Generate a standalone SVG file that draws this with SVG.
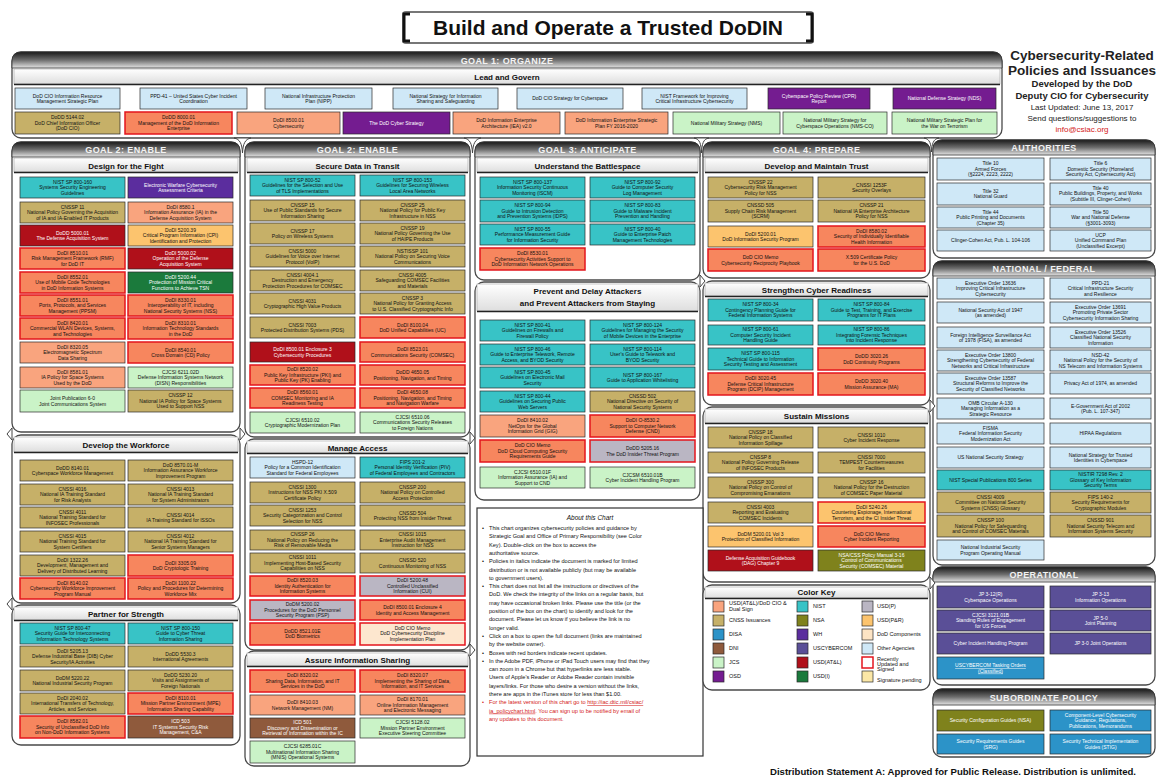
<svg xmlns="http://www.w3.org/2000/svg" width="1157" height="778" viewBox="0 0 1157 778">
<defs>
<linearGradient id="hg" x1="0" y1="0" x2="0" y2="1"><stop offset="0" stop-color="#1a1a1a"/><stop offset=".5" stop-color="#6e6e6e"/><stop offset="1" stop-color="#e4e4e4"/></linearGradient>
<linearGradient id="sg" x1="0" y1="0" x2="0" y2="1"><stop offset="0" stop-color="#ffffff"/><stop offset="1" stop-color="#dedede"/></linearGradient>
</defs>
<style>
text{font-family:"Liberation Sans",Arial,sans-serif}
.sec{fill:#fff;stroke:#4a4a4a;stroke-width:1.3}
.band{fill:url(#hg);stroke:#333;stroke-width:.8}
.sub{fill:url(#sg);stroke:#a0a0a0;stroke-width:.6}
.ul{stroke:#222;stroke-width:1.4}
.gh{font-size:9px;font-weight:bold;fill:#f2f2f2;text-anchor:middle;letter-spacing:.4px}
.sh{font-size:8px;font-weight:bold;fill:#111;text-anchor:middle}
.b{stroke:#2a2a2a;stroke-width:.7}
.s{fill:#f9a47e}
.sr{fill:#f7865e;stroke:#e3151c;stroke-width:1.5}
.t{fill:#c6b068}
.tl{fill:#38c3c6}
.lb{fill:#cfe8f7}
.lg{fill:#caf3c7}
.pu{fill:#741c90}
.p2{fill:#5b2d9e}
.dr{fill:#b0101a}
.dg{fill:#1b7a3c}
.br{fill:#8f5a3c}
.ol{fill:#7f821c}
.sl{fill:#5a4f97}
.bl{fill:#2c93c8}
.lo{fill:#fcc46e}
.lor{fill:#fcc46e;stroke:#e3151c;stroke-width:1.5}
.grr{fill:#bab6c3;stroke:#e3151c;stroke-width:1.5}
.per{fill:#fde7cf;stroke:#e3151c;stroke-width:1.5}
.k{font-size:5px;fill:#111;text-anchor:middle}
.w{font-size:5px;fill:#fff;text-anchor:middle}
.lt{font-size:5.5px;fill:#111}
.ab{font-size:5.6px;fill:#111}
.abr{font-size:5.6px;fill:#d42020}
.jn{fill:#fff;stroke:#444;stroke-width:1}
</style>
<rect width="1157" height="778" fill="#fff"/>

<g id="title">
<rect x="403" y="12" width="410" height="31" rx="3" fill="#fff" stroke="#777" stroke-width="2"/>
<path d="M410,14 H404 V41 H410 M806,14 H812 V41 H806" stroke="#111" stroke-width="3" fill="none"/>
<text x="608" y="35" font-size="21" font-weight="bold" text-anchor="middle" fill="#111">Build and Operate a Trusted DoDIN</text>
</g>

<g id="info" text-anchor="middle" font-weight="bold" fill="#222">
<text x="1082" y="60" font-size="13.5">Cybersecurity-Related</text>
<text x="1082" y="75" font-size="13.5">Policies and Issuances</text>
<text x="1082" y="87" font-size="9.5">Developed by the DoD</text>
<text x="1082" y="99" font-size="9.5">Deputy CIO for Cybersecurity</text>
<text x="1082" y="110" font-size="8" font-weight="normal">Last Updated: June 13, 2017</text>
<text x="1082" y="121" font-size="8" font-weight="normal">Send questions/suggestions to</text>
<text x="1082" y="132" font-size="8" font-weight="normal" fill="#d42020">info@csiac.org</text>
</g>

<g id="sections">
<g id="goal1">
<rect class="sec" x="12" y="52" width="990" height="86" rx="9"/>
<path class="band" d="M12,68 V61 Q12,52 21,52 H993 Q1002,52 1002,61 V68 Z"/>
<text class="gh" x="507" y="63.5">GOAL 1: ORGANIZE</text>
<rect class="sub" x="14" y="69" width="986" height="15"/>
<line class="ul" x1="14" y1="84.5" x2="1000" y2="84.5"/>
<text class="sh" x="507" y="80">Lead and Govern</text>
</g>
<g id="sec-design">
<rect class="sec" x="12" y="142" width="228" height="290" rx="9"/>
<path class="band" d="M12,157 V151 Q12,142 21,142 H231 Q240,142 240,151 V157 Z"/>
<text class="gh" x="126" y="153">GOAL 2: ENABLE</text>
<rect class="sub" x="14" y="158" width="224" height="14"/>
<line class="ul" x1="14" y1="172.5" x2="238" y2="172.5"/>
<text class="sh" x="126" y="168.5">Design for the Fight</text>
</g>
<g id="sec-workforce">
<rect class="sec" x="12" y="435" width="228" height="168" rx="9"/>
<rect class="sub" x="14" y="437" width="224" height="15"/>
<line class="ul" x1="14" y1="452.5" x2="238" y2="452.5"/>
<text class="sh" x="126" y="448">Develop the Workforce</text>
</g>
<g id="sec-partner">
<rect class="sec" x="12" y="605" width="228" height="140" rx="9"/>
<rect class="sub" x="14" y="607" width="224" height="13"/>
<line class="ul" x1="14" y1="620.5" x2="238" y2="620.5"/>
<text class="sh" x="126" y="616.5">Partner for Strength</text>
</g>
<g id="sec-transit">
<rect class="sec" x="245" y="142" width="225" height="295" rx="9"/>
<path class="band" d="M245,157 V151 Q245,142 254,142 H461 Q470,142 470,151 V157 Z"/>
<text class="gh" x="357.5" y="153">GOAL 2: ENABLE</text>
<rect class="sub" x="247" y="158" width="221" height="14"/>
<line class="ul" x1="247" y1="172.5" x2="468" y2="172.5"/>
<text class="sh" x="357.5" y="168.5">Secure Data in Transit</text>
</g>
<g id="sec-access">
<rect class="sec" x="245" y="439" width="225" height="211" rx="9"/>
<rect class="sub" x="247" y="441" width="221" height="12"/>
<line class="ul" x1="247" y1="453.5" x2="468" y2="453.5"/>
<text class="sh" x="357.5" y="450.5">Manage Access</text>
</g>
<g id="sec-sharing">
<rect class="sec" x="245" y="651" width="225" height="115" rx="9"/>
<rect class="sub" x="247" y="653" width="221" height="13"/>
<line class="ul" x1="247" y1="666.5" x2="468" y2="666.5"/>
<text class="sh" x="357.5" y="662.5">Assure Information Sharing</text>
</g>
<g id="sec-battlespace">
<rect class="sec" x="475" y="142" width="225" height="138" rx="9"/>
<path class="band" d="M475,157 V151 Q475,142 484,142 H691 Q700,142 700,151 V157 Z"/>
<text class="gh" x="587.5" y="153">GOAL 3: ANTICIPATE</text>
<rect class="sub" x="477" y="158" width="221" height="14"/>
<line class="ul" x1="477" y1="172.5" x2="698" y2="172.5"/>
<text class="sh" x="587.5" y="168.5">Understand the Battlespace</text>
</g>
<g id="sec-prevent">
<rect class="sec" x="475" y="282" width="225" height="218" rx="9"/>
<rect class="sub" x="477" y="284" width="221" height="27"/>
<line class="ul" x1="477" y1="311.5" x2="698" y2="311.5"/>
<text class="sh" x="587.5" y="294">Prevent and Delay Attackers</text>
<text class="sh" x="587.5" y="305.5">and Prevent Attackers from Staying</text>
</g>
<g id="sec-trust">
<rect class="sec" x="703" y="142" width="227" height="136" rx="9"/>
<path class="band" d="M703,157 V151 Q703,142 712,142 H921 Q930,142 930,151 V157 Z"/>
<text class="gh" x="816.5" y="153">GOAL 4: PREPARE</text>
<rect class="sub" x="705" y="158" width="223" height="14"/>
<line class="ul" x1="705" y1="172.5" x2="928" y2="172.5"/>
<text class="sh" x="816.5" y="168.5">Develop and Maintain Trust</text>
</g>
<g id="sec-readiness">
<rect class="sec" x="703" y="281" width="227" height="124" rx="9"/>
<rect class="sub" x="705" y="283" width="223" height="13"/>
<line class="ul" x1="705" y1="296.5" x2="928" y2="296.5"/>
<text class="sh" x="816.5" y="292.5">Strengthen Cyber Readiness</text>
</g>
<g id="sec-sustain">
<rect class="sec" x="703" y="407" width="227" height="175" rx="9"/>
<rect class="sub" x="705" y="409" width="223" height="14"/>
<line class="ul" x1="705" y1="423.5" x2="928" y2="423.5"/>
<text class="sh" x="816.5" y="419">Sustain Missions</text>
</g>
<g id="sec-authorities">
<rect class="sec" x="933" y="140" width="222" height="118" rx="9"/>
<path class="band" d="M933,155 V149 Q933,140 942,140 H1146 Q1155,140 1155,149 V155 Z"/>
<text class="gh" x="1044" y="151">AUTHORITIES</text>
</g>
<g id="sec-national">
<rect class="sec" x="933" y="261" width="222" height="304" rx="9"/>
<path class="band" d="M933,276 V270 Q933,261 942,261 H1146 Q1155,261 1155,270 V276 Z"/>
<text class="gh" x="1044" y="272">NATIONAL / FEDERAL</text>
</g>
<g id="sec-operational">
<rect class="sec" x="933" y="567" width="222" height="118" rx="9"/>
<path class="band" d="M933,582 V576 Q933,567 942,567 H1146 Q1155,567 1155,576 V582 Z"/>
<text class="gh" x="1044" y="578">OPERATIONAL</text>
</g>
<g id="sec-subordinate">
<rect class="sec" x="933" y="689" width="222" height="68" rx="9"/>
<path class="band" d="M933,705 V698 Q933,689 942,689 H1146 Q1155,689 1155,698 V705 Z"/>
<text class="gh" x="1044" y="700.5">SUBORDINATE POLICY</text>
</g>
</g>

<g id="connectors">
<path class="jn" d="M234,138 C240,139 242,144 242.5,153 C243,144 245,139 251,138 Z"/>
<path class="jn" d="M464,138 C470,139 472,144 472.5,153 C473,144 475,139 481,138 Z"/>
<path class="jn" d="M694,138 C700,139 701,144 701.5,153 C702,144 703,139 709,138 Z"/>
<path class="jn" d="M924,138 C930,139 931,144 931.5,152 C932,144 933,139 939,138 Z"/>
<path class="jn" d="M12,428 L7,434 L12,440 Z"/>
<path class="jn" d="M240,428 L245,434 L240,440 Z"/>
<path class="jn" d="M12,598 L7,604 L12,610 Z"/>
<path class="jn" d="M470,644 L475,650 L470,656 Z"/>
<path class="jn" d="M470,432 L475,438 L470,444 Z"/>
<path class="jn" d="M700,275 L705,281 L700,287 Z"/>
<path class="jn" d="M930,400 L935,406 L930,412 Z"/>
<path class="jn" d="M930,577 L935,583 L930,589 Z"/>
<path class="jn" d="M703,577 L698,583 L703,589 Z"/>
</g>

<g id="n-g1a"><rect class="b lb" x="15" y="88" width="105" height="21"/><text class="k" x="67.5" y="97.5">DoD CIO Information Resource<tspan x="67.5" dy="5.6">Management Strategic Plan</tspan></text></g>
<g id="n-g1b"><rect class="b lb" x="140" y="88" width="107" height="21"/><text class="k" x="193.5" y="97.5">PPD-41 – United States Cyber Incident<tspan x="193.5" dy="5.6">Coordination</tspan></text></g>
<g id="n-g1c"><rect class="b lb" x="265" y="88" width="107" height="21"/><text class="k" x="318.5" y="97.5">National Infrastructure Protection<tspan x="318.5" dy="5.6">Plan (NIPP)</tspan></text></g>
<g id="n-g1d"><rect class="b lb" x="393" y="88" width="105" height="21"/><text class="k" x="445.5" y="97.5">National Strategy for Information<tspan x="445.5" dy="5.6">Sharing and Safeguarding</tspan></text></g>
<g id="n-g1e"><rect class="b lb" x="517" y="88" width="106" height="21"/><text class="k" x="570" y="100.3">DoD CIO Strategy for Cyberspace</text></g>
<g id="n-g1f"><rect class="b lb" x="642" y="88" width="105" height="21"/><text class="k" x="694.5" y="97.5">NIST Framework for Improving<tspan x="694.5" dy="5.6">Critical Infrastructure Cybersecurity</tspan></text></g>
<g id="n-g1g"><rect class="b pu" x="768" y="88" width="102" height="21"/><text class="w" x="819" y="97.5">Cyberspace Policy Review (CPR)<tspan x="819" dy="5.6">Report</tspan></text></g>
<g id="n-g1h"><rect class="b pu" x="893" y="88" width="103" height="21"/><text class="w" x="944.5" y="100.3">National Defense Strategy (NDS)</text></g>
<g id="n-g1i"><rect class="b t" x="15" y="112" width="105" height="22"/><text class="k" x="67.5" y="119.2">DoDD 5144.02<tspan x="67.5" dy="5.6">DoD Chief Information Officer</tspan><tspan x="67.5" dy="5.6">(DoD CIO)</tspan></text></g>
<g id="n-g1j"><rect class="b sr" x="125" y="112" width="107" height="22"/><text class="k" x="178.5" y="119.2">DoDD 8000.01<tspan x="178.5" dy="5.6">Management of the DoD Information</tspan><tspan x="178.5" dy="5.6">Enterprise</tspan></text></g>
<g id="n-g1k"><rect class="b s" x="237" y="112" width="103" height="22"/><text class="k" x="288.5" y="122">DoDI 8500.01<tspan x="288.5" dy="5.6">Cybersecurity</tspan></text></g>
<g id="n-g1l"><rect class="b pu" x="343" y="112" width="107" height="22"/><text class="w" x="396.5" y="124.8">The DoD Cyber Strategy</text></g>
<g id="n-g1m"><rect class="b s" x="453" y="112" width="107" height="22"/><text class="k" x="506.5" y="122">DoD Information Enterprise<tspan x="506.5" dy="5.6">Architecture (IEA) v2.0</tspan></text></g>
<g id="n-g1n"><rect class="b s" x="565" y="112" width="103" height="22"/><text class="k" x="616.5" y="122">DoD Information Enterprise Strategic<tspan x="616.5" dy="5.6">Plan FY 2016-2020</tspan></text></g>
<g id="n-g1o"><rect class="b lg" x="673" y="112" width="107" height="22"/><text class="k" x="726.5" y="124.8">National Military Strategy (NMS)</text></g>
<g id="n-g1p"><rect class="b lg" x="783" y="112" width="104" height="22"/><text class="k" x="835" y="122">National Military Strategy for<tspan x="835" dy="5.6">Cyberspace Operations (NMS-CO)</tspan></text></g>
<g id="n-g1q"><rect class="b lg" x="892" y="112" width="105" height="22"/><text class="k" x="944.5" y="122">National Military Strategic Plan for<tspan x="944.5" dy="5.6">the War on Terrorism</tspan></text></g>

<g id="n-d1l"><rect class="b tl" x="20" y="177" width="105" height="21"/><text class="k" x="72.5" y="183.7">NIST SP 800-160<tspan x="72.5" dy="5.6">Systems Security Engineering</tspan><tspan x="72.5" dy="5.6">Guidelines</tspan></text></g>
<g id="n-d1r"><rect class="b p2" x="128" y="177" width="105" height="21"/><text class="w" x="180.5" y="186.5">Electronic Warfare Cybersecurity<tspan x="180.5" dy="5.6">Assessment Criteria</tspan></text></g>
<g id="n-d2l"><rect class="b t" x="20" y="202" width="105" height="21"/><text class="k" x="72.5" y="208.7">CNSSP 11<tspan x="72.5" dy="5.6">National Policy Governing the Acquisition</tspan><tspan x="72.5" dy="5.6">of IA and IA-Enabled IT Products</tspan></text></g>
<g id="n-d2r"><rect class="b s" x="128" y="202" width="105" height="21"/><text class="k" x="180.5" y="208.7">DoDI 8580.1<tspan x="180.5" dy="5.6">Information Assurance (IA) in the</tspan><tspan x="180.5" dy="5.6">Defense Acquisition System</tspan></text></g>
<g id="n-d3l"><rect class="b dr" x="20" y="225" width="105" height="21"/><text class="w" x="72.5" y="234.5">DoDD 5000.01<tspan x="72.5" dy="5.6">The Defense Acquisition System</tspan></text></g>
<g id="n-d3r"><rect class="b lo" x="128" y="225" width="105" height="21"/><text class="k" x="180.5" y="231.7">DoDI 5200.39<tspan x="180.5" dy="5.6">Critical Program Information (CPI)</tspan><tspan x="180.5" dy="5.6">Identification and Protection</tspan></text></g>
<g id="n-d4l"><rect class="b sr" x="20" y="248" width="105" height="21"/><text class="k" x="72.5" y="254.7">DoDI 8510.01<tspan x="72.5" dy="5.6">Risk Management Framework (RMF)</tspan><tspan x="72.5" dy="5.6">for DoD IT</tspan></text></g>
<g id="n-d4r"><rect class="b dr" x="128" y="248" width="105" height="21"/><text class="w" x="180.5" y="254.7">DoDI 5000.02<tspan x="180.5" dy="5.6">Operation of the Defense</tspan><tspan x="180.5" dy="5.6">Acquisition System</tspan></text></g>
<g id="n-d5l"><rect class="b sr" x="20" y="272" width="105" height="21"/><text class="k" x="72.5" y="278.7">DoDI 8552.01<tspan x="72.5" dy="5.6">Use of Mobile Code Technologies</tspan><tspan x="72.5" dy="5.6">in DoD Information Systems</tspan></text></g>
<g id="n-d5r"><rect class="b dg" x="128" y="272" width="105" height="21"/><text class="w" x="180.5" y="278.7">DoDI 5200.44<tspan x="180.5" dy="5.6">Protection of Mission Critical</tspan><tspan x="180.5" dy="5.6">Functions to Achieve TSN</tspan></text></g>
<g id="n-d6l"><rect class="b sr" x="20" y="295" width="105" height="21"/><text class="k" x="72.5" y="301.7">DoDI 8551.01<tspan x="72.5" dy="5.6">Ports, Protocols, and Services</tspan><tspan x="72.5" dy="5.6">Management (PPSM)</tspan></text></g>
<g id="n-d6r"><rect class="b sr" x="128" y="295" width="105" height="21"/><text class="k" x="180.5" y="301.7">DoDI 8330.01<tspan x="180.5" dy="5.6">Interoperability of IT, including</tspan><tspan x="180.5" dy="5.6">National Security Systems (NSS)</tspan></text></g>
<g id="n-d7l"><rect class="b sr" x="20" y="318" width="105" height="21"/><text class="k" x="72.5" y="324.7">DoDI 8420.01<tspan x="72.5" dy="5.6">Commercial WLAN Devices, Systems,</tspan><tspan x="72.5" dy="5.6">and Technologies</tspan></text></g>
<g id="n-d7r"><rect class="b sr" x="128" y="318" width="105" height="21"/><text class="k" x="180.5" y="324.7">DoDI 8310.01<tspan x="180.5" dy="5.6">Information Technology Standards</tspan><tspan x="180.5" dy="5.6">in the DoD</tspan></text></g>
<g id="n-d8l"><rect class="b s" x="20" y="342" width="105" height="21"/><text class="k" x="72.5" y="348.7">DoDI 8320.05<tspan x="72.5" dy="5.6">Electromagnetic Spectrum</tspan><tspan x="72.5" dy="5.6">Data Sharing</tspan></text></g>
<g id="n-d8r"><rect class="b sr" x="128" y="342" width="105" height="21"/><text class="k" x="180.5" y="351.5">DoDI 8540.01<tspan x="180.5" dy="5.6">Cross Domain (CD) Policy</tspan></text></g>
<g id="n-d9l"><rect class="b s" x="20" y="367" width="105" height="21"/><text class="k" x="72.5" y="373.7">DoDI 8581.01<tspan x="72.5" dy="5.6">IA Policy for Space Systems</tspan><tspan x="72.5" dy="5.6">Used by the DoD</tspan></text></g>
<g id="n-d9r"><rect class="b lg" x="128" y="367" width="105" height="21"/><text class="k" x="180.5" y="373.7">CJCSI 6211.02D<tspan x="180.5" dy="5.6">Defense Information Systems Network</tspan><tspan x="180.5" dy="5.6">(DISN) Responsibilities</tspan></text></g>
<g id="n-d10l"><rect class="b lg" x="20" y="390" width="105" height="22"/><text class="k" x="72.5" y="400">Joint Publication 6-0<tspan x="72.5" dy="5.6">Joint Communications System</tspan></text></g>
<g id="n-d10r"><rect class="b t" x="128" y="390" width="105" height="22"/><text class="k" x="180.5" y="397.2">CNSSP 12<tspan x="180.5" dy="5.6">National IA Policy for Space Systems</tspan><tspan x="180.5" dy="5.6">Used to Support NSS</tspan></text></g>

<g id="n-w1l"><rect class="b t" x="20" y="460" width="105" height="21"/><text class="k" x="72.5" y="469.5">DoDD 8140.01<tspan x="72.5" dy="5.6">Cyberspace Workforce Management</tspan></text></g>
<g id="n-w1r"><rect class="b t" x="128" y="460" width="105" height="21"/><text class="k" x="180.5" y="466.7">DoD 8570.01-M<tspan x="180.5" dy="5.6">Information Assurance Workforce</tspan><tspan x="180.5" dy="5.6">Improvement Program</tspan></text></g>
<g id="n-w2l"><rect class="b t" x="20" y="484" width="105" height="21"/><text class="k" x="72.5" y="490.7">CNSSI 4016<tspan x="72.5" dy="5.6">National IA Training Standard</tspan><tspan x="72.5" dy="5.6">for Risk Analysts</tspan></text></g>
<g id="n-w2r"><rect class="b t" x="128" y="484" width="105" height="21"/><text class="k" x="180.5" y="490.7">CNSSI 4013<tspan x="180.5" dy="5.6">National IA Training Standard</tspan><tspan x="180.5" dy="5.6">for System Administrators</tspan></text></g>
<g id="n-w3l"><rect class="b t" x="20" y="507" width="105" height="21"/><text class="k" x="72.5" y="513.7">CNSSI 4011<tspan x="72.5" dy="5.6">National Training Standard for</tspan><tspan x="72.5" dy="5.6">INFOSEC Professionals</tspan></text></g>
<g id="n-w3r"><rect class="b t" x="128" y="507" width="105" height="21"/><text class="k" x="180.5" y="516.5">CNSSI 4014<tspan x="180.5" dy="5.6">IA Training Standard for ISSOs</tspan></text></g>
<g id="n-w4l"><rect class="b t" x="20" y="531" width="105" height="21"/><text class="k" x="72.5" y="537.7">CNSSI 4015<tspan x="72.5" dy="5.6">National Training Standard for</tspan><tspan x="72.5" dy="5.6">System Certifiers</tspan></text></g>
<g id="n-w4r"><rect class="b t" x="128" y="531" width="105" height="21"/><text class="k" x="180.5" y="537.7">CNSSI 4012<tspan x="180.5" dy="5.6">National IA Training Standard for</tspan><tspan x="180.5" dy="5.6">Senior Systems Managers</tspan></text></g>
<g id="n-w5l"><rect class="b t" x="20" y="555" width="105" height="21"/><text class="k" x="72.5" y="561.7">DoDI 1322.26<tspan x="72.5" dy="5.6">Development, Management and</tspan><tspan x="72.5" dy="5.6">Delivery of Distributed Learning</tspan></text></g>
<g id="n-w5r"><rect class="b sr" x="128" y="555" width="105" height="21"/><text class="k" x="180.5" y="564.5">DoDI 3305.09<tspan x="180.5" dy="5.6">DoD Cryptologic Training</tspan></text></g>
<g id="n-w6l"><rect class="b sr" x="20" y="578" width="105" height="21"/><text class="k" x="72.5" y="584.7">DoDI 8140.02<tspan x="72.5" dy="5.6">Cybersecurity Workforce Improvement</tspan><tspan x="72.5" dy="5.6">Program Manual</tspan></text></g>
<g id="n-w6r"><rect class="b sr" x="128" y="578" width="105" height="21"/><text class="k" x="180.5" y="584.7">DoDI 1100.22<tspan x="180.5" dy="5.6">Policy and Procedures for Determining</tspan><tspan x="180.5" dy="5.6">Workforce Mix</tspan></text></g>

<g id="n-p1l"><rect class="b tl" x="20" y="623" width="105" height="21"/><text class="k" x="72.5" y="629.7">NIST SP 800-47<tspan x="72.5" dy="5.6">Security Guide for Interconnecting</tspan><tspan x="72.5" dy="5.6">Information Technology Systems</tspan></text></g>
<g id="n-p1r"><rect class="b tl" x="128" y="623" width="105" height="21"/><text class="k" x="180.5" y="629.7">NIST SP 800-150<tspan x="180.5" dy="5.6">Guide to Cyber Threat</tspan><tspan x="180.5" dy="5.6">Information Sharing</tspan></text></g>
<g id="n-p2l"><rect class="b t" x="20" y="646" width="105" height="21"/><text class="k" x="72.5" y="652.7">DoDI 5205.13<tspan x="72.5" dy="5.6">Defense Industrial Base (DIB) Cyber</tspan><tspan x="72.5" dy="5.6">Security/IA Activities</tspan></text></g>
<g id="n-p2r"><rect class="b t" x="128" y="646" width="105" height="21"/><text class="k" x="180.5" y="655.5">DoDD 5530.3<tspan x="180.5" dy="5.6">International Agreements</tspan></text></g>
<g id="n-p3l"><rect class="b t" x="20" y="670" width="105" height="21"/><text class="k" x="72.5" y="679.5">DoDM 5220.22<tspan x="72.5" dy="5.6">National Industrial Security Program</tspan></text></g>
<g id="n-p3r"><rect class="b t" x="128" y="670" width="105" height="21"/><text class="k" x="180.5" y="676.7">DoDD 5230.20<tspan x="180.5" dy="5.6">Visits and Assignments of</tspan><tspan x="180.5" dy="5.6">Foreign Nationals</tspan></text></g>
<g id="n-p4l"><rect class="b t" x="20" y="693" width="105" height="21"/><text class="k" x="72.5" y="699.7">DoDI 2040.02<tspan x="72.5" dy="5.6">International Transfers of Technology,</tspan><tspan x="72.5" dy="5.6">Articles, and Services</tspan></text></g>
<g id="n-p4r"><rect class="b sr" x="128" y="693" width="105" height="21"/><text class="k" x="180.5" y="699.7">DoDI 8110.01<tspan x="180.5" dy="5.6">Mission Partner Environment (MPE)</tspan><tspan x="180.5" dy="5.6">Information Sharing Capability</tspan></text></g>
<g id="n-p5l"><rect class="b sr" x="20" y="716" width="105" height="22"/><text class="k" x="72.5" y="723.2">DoDI 8582.01<tspan x="72.5" dy="5.6">Security of Unclassified DoD Info</tspan><tspan x="72.5" dy="5.6">on Non-DoD Information Systems</tspan></text></g>
<g id="n-p5r"><rect class="b br" x="128" y="716" width="105" height="22"/><text class="w" x="180.5" y="723.2">ICD 503<tspan x="180.5" dy="5.6">IT Systems Security Risk</tspan><tspan x="180.5" dy="5.6">Management, C&amp;A</tspan></text></g>

<g id="n-t1l"><rect class="b tl" x="250" y="175" width="105" height="21"/><text class="k" x="302.5" y="181.7">NIST SP 800-52<tspan x="302.5" dy="5.6">Guidelines for the Selection and Use</tspan><tspan x="302.5" dy="5.6">of TLS Implementations</tspan></text></g>
<g id="n-t1r"><rect class="b tl" x="360" y="175" width="105" height="21"/><text class="k" x="412.5" y="181.7">NIST SP 800-153<tspan x="412.5" dy="5.6">Guidelines for Securing Wireless</tspan><tspan x="412.5" dy="5.6">Local Area Networks</tspan></text></g>
<g id="n-t2l"><rect class="b t" x="250" y="200" width="105" height="21"/><text class="k" x="302.5" y="206.7">CNSSP 15<tspan x="302.5" dy="5.6">Use of Public Standards for Secure</tspan><tspan x="302.5" dy="5.6">Information Sharing</tspan></text></g>
<g id="n-t2r"><rect class="b t" x="360" y="200" width="105" height="21"/><text class="k" x="412.5" y="206.7">CNSSP 25<tspan x="412.5" dy="5.6">National Policy for Public Key</tspan><tspan x="412.5" dy="5.6">Infrastructure in NSS</tspan></text></g>
<g id="n-t3l"><rect class="b t" x="250" y="223" width="105" height="21"/><text class="k" x="302.5" y="232.5">CNSSP 17<tspan x="302.5" dy="5.6">Policy on Wireless Systems</tspan></text></g>
<g id="n-t3r"><rect class="b t" x="360" y="223" width="105" height="21"/><text class="k" x="412.5" y="229.7">CNSSP 19<tspan x="412.5" dy="5.6">National Policy Governing the Use</tspan><tspan x="412.5" dy="5.6">of HAIPE Products</tspan></text></g>
<g id="n-t4l"><rect class="b t" x="250" y="246" width="105" height="21"/><text class="k" x="302.5" y="252.7">CNSSI 5000<tspan x="302.5" dy="5.6">Guidelines for Voice over Internet</tspan><tspan x="302.5" dy="5.6">Protocol (VoIP)</tspan></text></g>
<g id="n-t4r"><rect class="b t" x="360" y="246" width="105" height="21"/><text class="k" x="412.5" y="252.7">NSTISSP 101<tspan x="412.5" dy="5.6">National Policy on Securing Voice</tspan><tspan x="412.5" dy="5.6">Communications</tspan></text></g>
<g id="n-t5l"><rect class="b t" x="250" y="270" width="105" height="21"/><text class="k" x="302.5" y="276.7">CNSSI 4004.1<tspan x="302.5" dy="5.6">Destruction and Emergency</tspan><tspan x="302.5" dy="5.6">Protection Procedures for COMSEC</tspan></text></g>
<g id="n-t5r"><rect class="b t" x="360" y="270" width="105" height="21"/><text class="k" x="412.5" y="276.7">CNSSI 4005<tspan x="412.5" dy="5.6">Safeguarding COMSEC Facilities</tspan><tspan x="412.5" dy="5.6">and Materials</tspan></text></g>
<g id="n-t6l"><rect class="b t" x="250" y="293" width="105" height="21"/><text class="k" x="302.5" y="302.5">CNSSI 4031<tspan x="302.5" dy="5.6">Cryptographic High Value Products</tspan></text></g>
<g id="n-t6r"><rect class="b t" x="360" y="293" width="105" height="21"/><text class="k" x="412.5" y="299.7">CNSSP 3<tspan x="412.5" dy="5.6">National Policy for Granting Access</tspan><tspan x="412.5" dy="5.6">to U.S. Classified Cryptographic Info</tspan></text></g>
<g id="n-t7l"><rect class="b t" x="250" y="317" width="105" height="21"/><text class="k" x="302.5" y="326.5">CNSSI 7003<tspan x="302.5" dy="5.6">Protected Distribution Systems (PDS)</tspan></text></g>
<g id="n-t7r"><rect class="b sr" x="360" y="317" width="105" height="21"/><text class="k" x="412.5" y="326.5">DoDI 8100.04<tspan x="412.5" dy="5.6">DoD Unified Capabilities (UC)</tspan></text></g>
<g id="n-t8l"><rect class="b dr" x="250" y="342" width="105" height="20"/><text class="w" x="302.5" y="351">DoDI 8500.01 Enclosure 3<tspan x="302.5" dy="5.6">Cybersecurity Procedures</tspan></text></g>
<g id="n-t8r"><rect class="b sr" x="360" y="342" width="105" height="20"/><text class="k" x="412.5" y="351">DoDI 8523.01<tspan x="412.5" dy="5.6">Communications Security (COMSEC)</tspan></text></g>
<g id="n-t9l"><rect class="b sr" x="250" y="365" width="105" height="20"/><text class="k" x="302.5" y="371.2">DoDI 8520.02<tspan x="302.5" dy="5.6">Public Key Infrastructure (PKI) and</tspan><tspan x="302.5" dy="5.6">Public Key (PK) Enabling</tspan></text></g>
<g id="n-t9r"><rect class="b sr" x="360" y="365" width="105" height="20"/><text class="k" x="412.5" y="374">DoDD 4650.05<tspan x="412.5" dy="5.6">Positioning, Navigation, and Timing</tspan></text></g>
<g id="n-t10l"><rect class="b sr" x="250" y="388" width="105" height="20"/><text class="k" x="302.5" y="394.2">DoDI 8560.01<tspan x="302.5" dy="5.6">COMSEC Monitoring and IA</tspan><tspan x="302.5" dy="5.6">Readiness Testing</tspan></text></g>
<g id="n-t10r"><rect class="b sr" x="360" y="388" width="105" height="20"/><text class="k" x="412.5" y="394.2">DoDI 4650.08<tspan x="412.5" dy="5.6">Positioning, Navigation, and Timing</tspan><tspan x="412.5" dy="5.6">and Navigation Warfare</tspan></text></g>
<g id="n-t11l"><rect class="b lg" x="250" y="412" width="105" height="21"/><text class="k" x="302.5" y="421.5">CJCSI 6510.02<tspan x="302.5" dy="5.6">Cryptographic Modernization Plan</tspan></text></g>
<g id="n-t11r"><rect class="b lg" x="360" y="412" width="105" height="21"/><text class="k" x="412.5" y="418.7">CJCSI 6510.06<tspan x="412.5" dy="5.6">Communications Security Releases</tspan><tspan x="412.5" dy="5.6">to Foreign Nations</tspan></text></g>

<g id="n-m1l"><rect class="b lb" x="250" y="457" width="105" height="21"/><text class="k" x="302.5" y="463.7">HSPD-12<tspan x="302.5" dy="5.6">Policy for a Common Identification</tspan><tspan x="302.5" dy="5.6">Standard for Federal Employees</tspan></text></g>
<g id="n-m1r"><rect class="b tl" x="360" y="457" width="105" height="21"/><text class="k" x="412.5" y="463.7">FIPS 201-2<tspan x="412.5" dy="5.6">Personal Identity Verification (PIV)</tspan><tspan x="412.5" dy="5.6">of Federal Employees and Contractors</tspan></text></g>
<g id="n-m2l"><rect class="b t" x="250" y="482" width="105" height="21"/><text class="k" x="302.5" y="488.7">CNSSI 1300<tspan x="302.5" dy="5.6">Instructions for NSS PKI X.509</tspan><tspan x="302.5" dy="5.6">Certificate Policy</tspan></text></g>
<g id="n-m2r"><rect class="b t" x="360" y="482" width="105" height="21"/><text class="k" x="412.5" y="488.7">CNSSP 200<tspan x="412.5" dy="5.6">National Policy on Controlled</tspan><tspan x="412.5" dy="5.6">Access Protection</tspan></text></g>
<g id="n-m3l"><rect class="b t" x="250" y="505" width="105" height="21"/><text class="k" x="302.5" y="511.7">CNSSI 1253<tspan x="302.5" dy="5.6">Security Categorization and Control</tspan><tspan x="302.5" dy="5.6">Selection for NSS</tspan></text></g>
<g id="n-m3r"><rect class="b t" x="360" y="505" width="105" height="21"/><text class="k" x="412.5" y="514.5">CNSSD 504<tspan x="412.5" dy="5.6">Protecting NSS from Insider Threat</tspan></text></g>
<g id="n-m4l"><rect class="b t" x="250" y="530" width="105" height="20"/><text class="k" x="302.5" y="536.2">CNSSP 26<tspan x="302.5" dy="5.6">National Policy on Reducing the</tspan><tspan x="302.5" dy="5.6">Risk of Removable Media</tspan></text></g>
<g id="n-m4r"><rect class="b t" x="360" y="530" width="105" height="20"/><text class="k" x="412.5" y="536.2">CNSSI 1015<tspan x="412.5" dy="5.6">Enterprise Audit Management</tspan><tspan x="412.5" dy="5.6">Instruction for NSS</tspan></text></g>
<g id="n-m5l"><rect class="b t" x="250" y="553" width="105" height="20"/><text class="k" x="302.5" y="559.2">CNSSI 1011<tspan x="302.5" dy="5.6">Implementing Host-Based Security</tspan><tspan x="302.5" dy="5.6">Capabilities on NSS</tspan></text></g>
<g id="n-m5r"><rect class="b t" x="360" y="553" width="105" height="20"/><text class="k" x="412.5" y="562">CNSSD 520<tspan x="412.5" dy="5.6">Continuous Monitoring of NSS</tspan></text></g>
<g id="n-m6l"><rect class="b sr" x="250" y="576" width="105" height="20"/><text class="k" x="302.5" y="582.2">DoDI 8520.03<tspan x="302.5" dy="5.6">Identity Authentication for</tspan><tspan x="302.5" dy="5.6">Information Systems</tspan></text></g>
<g id="n-m6r"><rect class="b grr" x="360" y="576" width="105" height="20"/><text class="k" x="412.5" y="582.2">DoDI 5200.48<tspan x="412.5" dy="5.6">Controlled Unclassified</tspan><tspan x="412.5" dy="5.6">Information (CUI)</tspan></text></g>
<g id="n-m7l"><rect class="b grr" x="250" y="600" width="105" height="20"/><text class="k" x="302.5" y="606.2">DoDM 5200.02<tspan x="302.5" dy="5.6">Procedures for the DoD Personnel</tspan><tspan x="302.5" dy="5.6">Security Program (PSP)</tspan></text></g>
<g id="n-m7r"><rect class="b sr" x="360" y="600" width="105" height="20"/><text class="k" x="412.5" y="609">DoDI 8500.01 Enclosure 4<tspan x="412.5" dy="5.6">Identity and Access Management</tspan></text></g>
<g id="n-m8l"><rect class="b sr" x="250" y="623" width="105" height="22"/><text class="k" x="302.5" y="632.5">DoDD 8521.01E<tspan x="302.5" dy="5.6">DoD Biometrics</tspan></text></g>
<g id="n-m8r"><rect class="b per" x="360" y="623" width="105" height="22"/><text class="k" x="412.5" y="629.7">DoD CIO Memo<tspan x="412.5" dy="5.6">DoD Cybersecurity Discipline</tspan><tspan x="412.5" dy="5.6">Implementation Plan</tspan></text></g>

<g id="n-a1l"><rect class="b sr" x="250" y="670" width="105" height="22"/><text class="k" x="302.5" y="677.2">DoDI 8320.02<tspan x="302.5" dy="5.6">Sharing Data, Information, and IT</tspan><tspan x="302.5" dy="5.6">Services in the DoD</tspan></text></g>
<g id="n-a1r"><rect class="b sr" x="360" y="670" width="105" height="22"/><text class="k" x="412.5" y="677.2">DoDI 8320.07<tspan x="412.5" dy="5.6">Implementing the Sharing of Data,</tspan><tspan x="412.5" dy="5.6">Information, and IT Services</tspan></text></g>
<g id="n-a2l"><rect class="b s" x="250" y="695" width="105" height="20"/><text class="k" x="302.5" y="704">DoDI 8410.03<tspan x="302.5" dy="5.6">Network Management (NM)</tspan></text></g>
<g id="n-a2r"><rect class="b s" x="360" y="695" width="105" height="20"/><text class="k" x="412.5" y="701.2">DoDI 8170.01<tspan x="412.5" dy="5.6">Online Information Management</tspan><tspan x="412.5" dy="5.6">and Electronic Messaging</tspan></text></g>
<g id="n-a3l"><rect class="b br" x="250" y="718" width="105" height="20"/><text class="w" x="302.5" y="724.2">ICD 501<tspan x="302.5" dy="5.6">Discovery and Dissemination or</tspan><tspan x="302.5" dy="5.6">Retrieval of Information within the IC</tspan></text></g>
<g id="n-a3r"><rect class="b lg" x="360" y="718" width="105" height="20"/><text class="k" x="412.5" y="724.2">CJCSI 5128.02<tspan x="412.5" dy="5.6">Mission Partner Environment</tspan><tspan x="412.5" dy="5.6">Executive Steering Committee</tspan></text></g>
<g id="n-a4l"><rect class="b lg" x="250" y="741" width="105" height="22"/><text class="k" x="302.5" y="748.2">CJCSI 6285.01C<tspan x="302.5" dy="5.6">Multinational Information Sharing</tspan><tspan x="302.5" dy="5.6">(MNIS) Operational Systems</tspan></text></g>

<g id="n-u1l"><rect class="b tl" x="480" y="177" width="105" height="21"/><text class="k" x="532.5" y="183.7">NIST SP 800-137<tspan x="532.5" dy="5.6">Information Security Continuous</tspan><tspan x="532.5" dy="5.6">Monitoring (ISCM)</tspan></text></g>
<g id="n-u1r"><rect class="b tl" x="590" y="177" width="105" height="21"/><text class="k" x="642.5" y="183.7">NIST SP 800-92<tspan x="642.5" dy="5.6">Guide to Computer Security</tspan><tspan x="642.5" dy="5.6">Log Management</tspan></text></g>
<g id="n-u2l"><rect class="b tl" x="480" y="200" width="105" height="22"/><text class="k" x="532.5" y="207.2">NIST SP 800-94<tspan x="532.5" dy="5.6">Guide to Intrusion Detection</tspan><tspan x="532.5" dy="5.6">and Prevention Systems (IDPS)</tspan></text></g>
<g id="n-u2r"><rect class="b tl" x="590" y="200" width="105" height="22"/><text class="k" x="642.5" y="207.2">NIST SP 800-83<tspan x="642.5" dy="5.6">Guide to Malware Incident</tspan><tspan x="642.5" dy="5.6">Prevention and Handling</tspan></text></g>
<g id="n-u3l"><rect class="b tl" x="480" y="224" width="105" height="21"/><text class="k" x="532.5" y="230.7">NIST SP 800-55<tspan x="532.5" dy="5.6">Performance Measurement Guide</tspan><tspan x="532.5" dy="5.6">for Information Security</tspan></text></g>
<g id="n-u3r"><rect class="b tl" x="590" y="224" width="105" height="21"/><text class="k" x="642.5" y="230.7">NIST SP 800-40<tspan x="642.5" dy="5.6">Guide to Enterprise Patch</tspan><tspan x="642.5" dy="5.6">Management Technologies</tspan></text></g>
<g id="n-u4l"><rect class="b sr" x="480" y="248" width="105" height="22"/><text class="k" x="532.5" y="255.2">DoDI 8530.01<tspan x="532.5" dy="5.6">Cybersecurity Activities Support to</tspan><tspan x="532.5" dy="5.6">DoD Information Network Operations</tspan></text></g>

<g id="n-v1l"><rect class="b tl" x="480" y="320" width="105" height="21"/><text class="k" x="532.5" y="326.7">NIST SP 800-41<tspan x="532.5" dy="5.6">Guidelines on Firewalls and</tspan><tspan x="532.5" dy="5.6">Firewall Policy</tspan></text></g>
<g id="n-v1r"><rect class="b tl" x="590" y="320" width="105" height="21"/><text class="k" x="642.5" y="326.7">NIST SP 800-124<tspan x="642.5" dy="5.6">Guidelines for Managing the Security</tspan><tspan x="642.5" dy="5.6">of Mobile Devices in the Enterprise</tspan></text></g>
<g id="n-v2l"><rect class="b tl" x="480" y="344" width="105" height="21"/><text class="k" x="532.5" y="350.7">NIST SP 800-46<tspan x="532.5" dy="5.6">Guide to Enterprise Telework, Remote</tspan><tspan x="532.5" dy="5.6">Access, and BYOD Security</tspan></text></g>
<g id="n-v2r"><rect class="b tl" x="590" y="344" width="105" height="21"/><text class="k" x="642.5" y="350.7">NIST SP 800-114<tspan x="642.5" dy="5.6">User's Guide to Telework and</tspan><tspan x="642.5" dy="5.6">BYOD Security</tspan></text></g>
<g id="n-v3l"><rect class="b tl" x="480" y="367" width="105" height="21"/><text class="k" x="532.5" y="373.7">NIST SP 800-45<tspan x="532.5" dy="5.6">Guidelines on Electronic Mail</tspan><tspan x="532.5" dy="5.6">Security</tspan></text></g>
<g id="n-v3r"><rect class="b tl" x="590" y="367" width="105" height="21"/><text class="k" x="642.5" y="376.5">NIST SP 800-167<tspan x="642.5" dy="5.6">Guide to Application Whitelisting</tspan></text></g>
<g id="n-v4l"><rect class="b tl" x="480" y="391" width="105" height="21"/><text class="k" x="532.5" y="397.7">NIST SP 800-44<tspan x="532.5" dy="5.6">Guidelines on Securing Public</tspan><tspan x="532.5" dy="5.6">Web Servers</tspan></text></g>
<g id="n-v4r"><rect class="b t" x="590" y="391" width="105" height="21"/><text class="k" x="642.5" y="397.7">CNSSD 502<tspan x="642.5" dy="5.6">National Directive on Security of</tspan><tspan x="642.5" dy="5.6">National Security Systems</tspan></text></g>
<g id="n-v5l"><rect class="b s" x="480" y="415" width="105" height="22"/><text class="k" x="532.5" y="422.2">DoDI 8410.02<tspan x="532.5" dy="5.6">NetOps for the Global</tspan><tspan x="532.5" dy="5.6">Information Grid (GIG)</tspan></text></g>
<g id="n-v5r"><rect class="b sr" x="590" y="415" width="105" height="22"/><text class="k" x="642.5" y="422.2">DoDI O-8530.2<tspan x="642.5" dy="5.6">Support to Computer Network</tspan><tspan x="642.5" dy="5.6">Defense (CND)</tspan></text></g>
<g id="n-v6l"><rect class="b sr" x="480" y="440" width="105" height="22"/><text class="k" x="532.5" y="447.2">DoD CIO Memo<tspan x="532.5" dy="5.6">DoD Cloud Computing Security</tspan><tspan x="532.5" dy="5.6">Requirements Guide</tspan></text></g>
<g id="n-v6r"><rect class="b grr" x="590" y="440" width="105" height="22"/><text class="k" x="642.5" y="450">DoDD 5205.16<tspan x="642.5" dy="5.6">The DoD Insider Threat Program</tspan></text></g>
<g id="n-v7l"><rect class="b lg" x="480" y="467" width="105" height="21"/><text class="k" x="532.5" y="473.7">CJCSI 6510.01F<tspan x="532.5" dy="5.6">Information Assurance (IA) and</tspan><tspan x="532.5" dy="5.6">Support to CND</tspan></text></g>
<g id="n-v7r"><rect class="b lg" x="590" y="467" width="105" height="21"/><text class="k" x="642.5" y="476.5">CJCSM 6510.01B<tspan x="642.5" dy="5.6">Cyber Incident Handling Program</tspan></text></g>

<g id="n-r1l"><rect class="b t" x="708" y="177" width="105" height="21"/><text class="k" x="760.5" y="183.7">CNSSP 22<tspan x="760.5" dy="5.6">Cybersecurity Risk Management</tspan><tspan x="760.5" dy="5.6">Policy for NSS</tspan></text></g>
<g id="n-r1r"><rect class="b t" x="818" y="177" width="107" height="21"/><text class="k" x="871.5" y="186.5">CNSSI 1253F<tspan x="871.5" dy="5.6">Security Overlays</tspan></text></g>
<g id="n-r2l"><rect class="b t" x="708" y="200" width="105" height="22"/><text class="k" x="760.5" y="207.2">CNSSD 505<tspan x="760.5" dy="5.6">Supply Chain Risk Management</tspan><tspan x="760.5" dy="5.6">(SCRM)</tspan></text></g>
<g id="n-r2r"><rect class="b t" x="818" y="200" width="107" height="22"/><text class="k" x="871.5" y="207.2">CNSSP 21<tspan x="871.5" dy="5.6">National IA Enterprise Architecture</tspan><tspan x="871.5" dy="5.6">Policy for NSS</tspan></text></g>
<g id="n-r3l"><rect class="b lo" x="708" y="226" width="105" height="21"/><text class="k" x="760.5" y="235.5">DoDI 5200.01<tspan x="760.5" dy="5.6">DoD Information Security Program</tspan></text></g>
<g id="n-r3r"><rect class="b sr" x="818" y="226" width="107" height="21"/><text class="k" x="871.5" y="232.7">DoDI 8580.02<tspan x="871.5" dy="5.6">Security of Individually Identifiable</tspan><tspan x="871.5" dy="5.6">Health Information</tspan></text></g>
<g id="n-r4l"><rect class="b sr" x="708" y="249" width="105" height="22"/><text class="k" x="760.5" y="259">DoD CIO Memo<tspan x="760.5" dy="5.6">Cybersecurity Reciprocity Playbook</tspan></text></g>
<g id="n-r4r"><rect class="b sr" x="818" y="249" width="107" height="22"/><text class="k" x="871.5" y="259">X.509 Certificate Policy<tspan x="871.5" dy="5.6">for the U.S. DoD</tspan></text></g>

<g id="n-c1l"><rect class="b tl" x="708" y="299" width="105" height="22"/><text class="k" x="760.5" y="306.2">NIST SP 800-34<tspan x="760.5" dy="5.6">Contingency Planning Guide for</tspan><tspan x="760.5" dy="5.6">Federal Information Systems</tspan></text></g>
<g id="n-c1r"><rect class="b tl" x="818" y="299" width="107" height="22"/><text class="k" x="871.5" y="306.2">NIST SP 800-84<tspan x="871.5" dy="5.6">Guide to Test, Training, and Exercise</tspan><tspan x="871.5" dy="5.6">Programs for IT Plans</tspan></text></g>
<g id="n-c2l"><rect class="b tl" x="708" y="325" width="105" height="20"/><text class="k" x="760.5" y="331.2">NIST SP 800-61<tspan x="760.5" dy="5.6">Computer Security Incident</tspan><tspan x="760.5" dy="5.6">Handling Guide</tspan></text></g>
<g id="n-c2r"><rect class="b tl" x="818" y="325" width="107" height="20"/><text class="k" x="871.5" y="331.2">NIST SP 800-86<tspan x="871.5" dy="5.6">Integrating Forensic Techniques</tspan><tspan x="871.5" dy="5.6">into Incident Response</tspan></text></g>
<g id="n-c3l"><rect class="b tl" x="708" y="348" width="105" height="22"/><text class="k" x="760.5" y="355.2">NIST SP 800-115<tspan x="760.5" dy="5.6">Technical Guide to Information</tspan><tspan x="760.5" dy="5.6">Security Testing and Assessment</tspan></text></g>
<g id="n-c3r"><rect class="b sr" x="818" y="348" width="107" height="22"/><text class="k" x="871.5" y="358">DoDD 3020.26<tspan x="871.5" dy="5.6">DoD Continuity Programs</tspan></text></g>
<g id="n-c4l"><rect class="b sr" x="708" y="373" width="105" height="22"/><text class="k" x="760.5" y="380.2">DoDI 3020.45<tspan x="760.5" dy="5.6">Defense Critical Infrastructure</tspan><tspan x="760.5" dy="5.6">Program (DCIP) Management</tspan></text></g>
<g id="n-c4r"><rect class="b sr" x="818" y="373" width="107" height="22"/><text class="k" x="871.5" y="383">DoDD 3020.40<tspan x="871.5" dy="5.6">Mission Assurance (MA)</tspan></text></g>

<g id="n-s1l"><rect class="b t" x="708" y="427" width="105" height="21"/><text class="k" x="760.5" y="433.7">CNSSP 18<tspan x="760.5" dy="5.6">National Policy on Classified</tspan><tspan x="760.5" dy="5.6">Information Spillage</tspan></text></g>
<g id="n-s1r"><rect class="b t" x="818" y="427" width="107" height="21"/><text class="k" x="871.5" y="436.5">CNSSI 1010<tspan x="871.5" dy="5.6">Cyber Incident Response</tspan></text></g>
<g id="n-s2l"><rect class="b t" x="708" y="452" width="105" height="21"/><text class="k" x="760.5" y="458.7">CNSSP 8<tspan x="760.5" dy="5.6">National Policy Governing Release</tspan><tspan x="760.5" dy="5.6">of INFOSEC Products</tspan></text></g>
<g id="n-s2r"><rect class="b t" x="818" y="452" width="107" height="21"/><text class="k" x="871.5" y="458.7">CNSSI 7000<tspan x="871.5" dy="5.6">TEMPEST Countermeasures</tspan><tspan x="871.5" dy="5.6">for Facilities</tspan></text></g>
<g id="n-s3l"><rect class="b t" x="708" y="477" width="105" height="21"/><text class="k" x="760.5" y="483.7">CNSSP 300<tspan x="760.5" dy="5.6">National Policy on Control of</tspan><tspan x="760.5" dy="5.6">Compromising Emanations</tspan></text></g>
<g id="n-s3r"><rect class="b t" x="818" y="477" width="107" height="21"/><text class="k" x="871.5" y="483.7">CNSSP 16<tspan x="871.5" dy="5.6">National Policy for the Destruction</tspan><tspan x="871.5" dy="5.6">of COMSEC Paper Material</tspan></text></g>
<g id="n-s4l"><rect class="b t" x="708" y="502" width="105" height="21"/><text class="k" x="760.5" y="508.7">CNSSI 4003<tspan x="760.5" dy="5.6">Reporting and Evaluating</tspan><tspan x="760.5" dy="5.6">COMSEC Incidents</tspan></text></g>
<g id="n-s4r"><rect class="b lor" x="818" y="502" width="107" height="21"/><text class="k" x="871.5" y="508.7">DoDI 5240.26<tspan x="871.5" dy="5.6">Countering Espionage, International</tspan><tspan x="871.5" dy="5.6">Terrorism, and the CI Insider Threat</tspan></text></g>
<g id="n-s5l"><rect class="b lo" x="708" y="526" width="105" height="21"/><text class="k" x="760.5" y="535.5">DoDM 5200.01 Vol 3<tspan x="760.5" dy="5.6">Protection of Classified Information</tspan></text></g>
<g id="n-s5r"><rect class="b sr" x="818" y="526" width="107" height="21"/><text class="k" x="871.5" y="535.5">DoD CIO Memo<tspan x="871.5" dy="5.6">Cyber Incident Reporting</tspan></text></g>
<g id="n-s6l"><rect class="b dr" x="708" y="550" width="105" height="21"/><text class="w" x="760.5" y="559.5">Defense Acquisition Guidebook<tspan x="760.5" dy="5.6">(DAG) Chapter 9</tspan></text></g>
<g id="n-s6r"><rect class="b ol" x="818" y="550" width="107" height="21"/><text class="w" x="871.5" y="556.7">NSA/CSS Policy Manual 3-16<tspan x="871.5" dy="5.6">Control of Communications</tspan><tspan x="871.5" dy="5.6">Security (COMSEC) Material</tspan></text></g>

<g id="n-h1l"><rect class="b lb" x="937" y="158" width="107" height="22"/><text class="k" x="990.5" y="165.2">Title 10<tspan x="990.5" dy="5.6">Armed Forces</tspan><tspan x="990.5" dy="5.6">(§2224, 2223, 2222)</tspan></text></g>
<g id="n-h1r"><rect class="b lb" x="1050" y="158" width="101" height="22"/><text class="k" x="1100.5" y="165.2">Title 6<tspan x="1100.5" dy="5.6">Domestic Security (Homeland</tspan><tspan x="1100.5" dy="5.6">Security Act, Cybersecurity Act)</tspan></text></g>
<g id="n-h2l"><rect class="b lb" x="937" y="183" width="107" height="22"/><text class="k" x="990.5" y="192.5">Title 32<tspan x="990.5" dy="5.6">National Guard</tspan></text></g>
<g id="n-h2r"><rect class="b lb" x="1050" y="183" width="101" height="22"/><text class="k" x="1100.5" y="189.7">Title 40<tspan x="1100.5" dy="5.6">Public Buildings, Property, and Works</tspan><tspan x="1100.5" dy="5.6">(Subtitle III, Clinger-Cohen)</tspan></text></g>
<g id="n-h3l"><rect class="b lb" x="937" y="207" width="107" height="21"/><text class="k" x="990.5" y="213.7">Title 44<tspan x="990.5" dy="5.6">Public Printing and Documents</tspan><tspan x="990.5" dy="5.6">(Chapter 35)</tspan></text></g>
<g id="n-h3r"><rect class="b lb" x="1050" y="207" width="101" height="21"/><text class="k" x="1100.5" y="213.7">Title 50<tspan x="1100.5" dy="5.6">War and National Defense</tspan><tspan x="1100.5" dy="5.6">(§3001-3093)</tspan></text></g>
<g id="n-h4l"><rect class="b lb" x="937" y="230" width="107" height="21"/><text class="k" x="990.5" y="242.3">Clinger-Cohen Act, Pub. L. 104-106</text></g>
<g id="n-h4r"><rect class="b lb" x="1050" y="230" width="101" height="21"/><text class="k" x="1100.5" y="236.7">UCP<tspan x="1100.5" dy="5.6">Unified Command Plan</tspan><tspan x="1100.5" dy="5.6">(Unclassified Excerpt)</tspan></text></g>

<g id="n-f1l"><rect class="b lb" x="937" y="278" width="107" height="21"/><text class="k" x="990.5" y="284.7">Executive Order 13636<tspan x="990.5" dy="5.6">Improving Critical Infrastructure</tspan><tspan x="990.5" dy="5.6">Cybersecurity</tspan></text></g>
<g id="n-f1r"><rect class="b lb" x="1050" y="278" width="101" height="21"/><text class="k" x="1100.5" y="284.7">PPD-21<tspan x="1100.5" dy="5.6">Critical Infrastructure Security</tspan><tspan x="1100.5" dy="5.6">and Resilience</tspan></text></g>
<g id="n-f2l"><rect class="b lb" x="937" y="302" width="107" height="21"/><text class="k" x="990.5" y="311.5">National Security Act of 1947<tspan x="990.5" dy="5.6">(as amended)</tspan></text></g>
<g id="n-f2r"><rect class="b lb" x="1050" y="302" width="101" height="21"/><text class="k" x="1100.5" y="308.7">Executive Order 13691<tspan x="1100.5" dy="5.6">Promoting Private Sector</tspan><tspan x="1100.5" dy="5.6">Cybersecurity Information Sharing</tspan></text></g>
<g id="n-f3l"><rect class="b lb" x="937" y="327" width="107" height="21"/><text class="k" x="990.5" y="336.5">Foreign Intelligence Surveillance Act<tspan x="990.5" dy="5.6">of 1978 (FISA), as amended</tspan></text></g>
<g id="n-f3r"><rect class="b lb" x="1050" y="327" width="101" height="21"/><text class="k" x="1100.5" y="333.7">Executive Order 13526<tspan x="1100.5" dy="5.6">Classified National Security</tspan><tspan x="1100.5" dy="5.6">Information</tspan></text></g>
<g id="n-f4l"><rect class="b lb" x="937" y="350" width="107" height="21"/><text class="k" x="990.5" y="356.7">Executive Order 13800<tspan x="990.5" dy="5.6">Strengthening Cybersecurity of Federal</tspan><tspan x="990.5" dy="5.6">Networks and Critical Infrastructure</tspan></text></g>
<g id="n-f4r"><rect class="b lb" x="1050" y="350" width="101" height="21"/><text class="k" x="1100.5" y="356.7">NSD-42<tspan x="1100.5" dy="5.6">National Policy for the Security of</tspan><tspan x="1100.5" dy="5.6">NS Telecom and Information Systems</tspan></text></g>
<g id="n-f5l"><rect class="b lb" x="937" y="373" width="107" height="21"/><text class="k" x="990.5" y="379.7">Executive Order 13587<tspan x="990.5" dy="5.6">Structural Reforms to Improve the</tspan><tspan x="990.5" dy="5.6">Security of Classified Networks</tspan></text></g>
<g id="n-f5r"><rect class="b lb" x="1050" y="373" width="101" height="21"/><text class="k" x="1100.5" y="385.3">Privacy Act of 1974, as amended</text></g>
<g id="n-f6l"><rect class="b lb" x="937" y="398" width="107" height="21"/><text class="k" x="990.5" y="404.7">OMB Circular A-130<tspan x="990.5" dy="5.6">Managing Information as a</tspan><tspan x="990.5" dy="5.6">Strategic Resource</tspan></text></g>
<g id="n-f6r"><rect class="b lb" x="1050" y="398" width="101" height="21"/><text class="k" x="1100.5" y="407.5">E-Government Act of 2002<tspan x="1100.5" dy="5.6">(Pub. L. 107-347)</tspan></text></g>
<g id="n-f7l"><rect class="b lb" x="937" y="423" width="107" height="21"/><text class="k" x="990.5" y="429.7">FISMA<tspan x="990.5" dy="5.6">Federal Information Security</tspan><tspan x="990.5" dy="5.6">Modernization Act</tspan></text></g>
<g id="n-f7r"><rect class="b lb" x="1050" y="423" width="101" height="21"/><text class="k" x="1100.5" y="435.3">HIPAA Regulations</text></g>
<g id="n-f8l"><rect class="b lb" x="937" y="447" width="107" height="21"/><text class="k" x="990.5" y="459.3">US National Security Strategy</text></g>
<g id="n-f8r"><rect class="b lb" x="1050" y="447" width="101" height="21"/><text class="k" x="1100.5" y="456.5">National Strategy for Trusted<tspan x="1100.5" dy="5.6">Identities in Cyberspace</tspan></text></g>
<g id="n-f9l"><rect class="b tl" x="937" y="470" width="107" height="20"/><text class="k" x="990.5" y="481.8">NIST Special Publications 800 Series</text></g>
<g id="n-f9r"><rect class="b tl" x="1050" y="470" width="101" height="20"/><text class="k" x="1100.5" y="476.2">NISTIR 7298 Rev. 2<tspan x="1100.5" dy="5.6">Glossary of Key Information</tspan><tspan x="1100.5" dy="5.6">Security Terms</tspan></text></g>
<g id="n-f10l"><rect class="b t" x="937" y="492" width="107" height="21"/><text class="k" x="990.5" y="498.7">CNSSI 4009<tspan x="990.5" dy="5.6">Committee on National Security</tspan><tspan x="990.5" dy="5.6">Systems (CNSS) Glossary</tspan></text></g>
<g id="n-f10r"><rect class="b t" x="1050" y="492" width="101" height="21"/><text class="k" x="1100.5" y="498.7">FIPS 140-2<tspan x="1100.5" dy="5.6">Security Requirements for</tspan><tspan x="1100.5" dy="5.6">Cryptographic Modules</tspan></text></g>
<g id="n-f11l"><rect class="b t" x="937" y="515" width="107" height="22"/><text class="k" x="990.5" y="522.2">CNSSP 100<tspan x="990.5" dy="5.6">National Policy for Safeguarding</tspan><tspan x="990.5" dy="5.6">and Control of COMSEC Materials</tspan></text></g>
<g id="n-f11r"><rect class="b t" x="1050" y="515" width="101" height="22"/><text class="k" x="1100.5" y="522.2">CNSSD 901<tspan x="1100.5" dy="5.6">National Security Telecom and</tspan><tspan x="1100.5" dy="5.6">Information Systems Security</tspan></text></g>
<g id="n-f12l"><rect class="b lb" x="937" y="540" width="107" height="20"/><text class="k" x="990.5" y="549">National Industrial Security<tspan x="990.5" dy="5.6">Program Operating Manual</tspan></text></g>

<g id="n-o1l"><rect class="b sl" x="937" y="586" width="107" height="22"/><text class="w" x="990.5" y="596">JP 3-12(R)<tspan x="990.5" dy="5.6">Cyberspace Operations</tspan></text></g>
<g id="n-o1r"><rect class="b sl" x="1050" y="586" width="101" height="22"/><text class="w" x="1100.5" y="596">JP 3-13<tspan x="1100.5" dy="5.6">Information Operations</tspan></text></g>
<g id="n-o2l"><rect class="b sl" x="937" y="610" width="107" height="21"/><text class="w" x="990.5" y="616.7">CJCSI 3121.01B<tspan x="990.5" dy="5.6">Standing Rules of Engagement</tspan><tspan x="990.5" dy="5.6">for US Forces</tspan></text></g>
<g id="n-o2r"><rect class="b sl" x="1050" y="610" width="101" height="21"/><text class="w" x="1100.5" y="619.5">JP 5-0<tspan x="1100.5" dy="5.6">Joint Planning</tspan></text></g>
<g id="n-o3l"><rect class="b sl" x="937" y="633" width="107" height="21"/><text class="w" x="990.5" y="645.3">Cyber Incident Handling Program</text></g>
<g id="n-o3r"><rect class="b sl" x="1050" y="633" width="101" height="21"/><text class="w" x="1100.5" y="645.3">JP 3-0 Joint Operations</text></g>
<g id="n-o4l"><rect class="b bl" x="937" y="657" width="107" height="22"/><text class="w" x="990.5" y="667" text-decoration="underline">USCYBERCOM Tasking Orders<tspan x="990.5" dy="5.6">(Classified)</tspan></text></g>

<g id="n-x1l"><rect class="b ol" x="937" y="710" width="107" height="21"/><text class="w" x="990.5" y="722.3">Security Configuration Guides (NSA)</text></g>
<g id="n-x1r"><rect class="b bl" x="1050" y="710" width="101" height="21"/><text class="w" x="1100.5" y="716.7">Component-Level Cybersecurity<tspan x="1100.5" dy="5.6">Guidance, Regulations,</tspan><tspan x="1100.5" dy="5.6">Publications, Memorandums</tspan></text></g>
<g id="n-x2l"><rect class="b bl" x="937" y="734" width="107" height="20"/><text class="w" x="990.5" y="743">Security Requirements Guides<tspan x="990.5" dy="5.6">(SRG)</tspan></text></g>
<g id="n-x2r"><rect class="b bl" x="1050" y="734" width="101" height="20"/><text class="w" x="1100.5" y="743">Security Technical Implementation<tspan x="1100.5" dy="5.6">Guides (STIG)</tspan></text></g>

<g id="about">
<rect x="477" y="508" width="226" height="248" fill="#fff" stroke="#333" stroke-width="1.2"/>
<text x="590" y="520" font-size="6.5" font-style="italic" text-anchor="middle" fill="#111">About this Chart</text>
<text x="482" y="530" class="ab">•</text><text x="489" y="530" class="ab">This chart organizes cybersecurity policies and guidance by</text>
<text x="489" y="538.3" class="ab">Strategic Goal and Office of Primary Responsibility (see Color</text>
<text x="489" y="546.6" class="ab">Key). Double-click on the box to access the</text>
<text x="489" y="554.9" class="ab">authoritative source.</text>
<text x="482" y="563.2" class="ab">•</text><text x="489" y="563.2" class="ab">Policies in italics indicate the document is marked for limited</text>
<text x="489" y="571.5" class="ab">distribution or is not available publicly (but may be available</text>
<text x="489" y="579.8" class="ab">to government users).</text>
<text x="482" y="588.1" class="ab">•</text><text x="489" y="588.1" class="ab">This chart does not list all the instructions or directives of the</text>
<text x="489" y="596.4" class="ab">DoD. We check the integrity of the links on a regular basis, but</text>
<text x="489" y="604.7" class="ab">may have occasional broken links. Please use the title (or the</text>
<text x="489" y="613" class="ab">position of the box on the chart) to identify and look for the</text>
<text x="489" y="621.3" class="ab">document. Please let us know if you believe the link is no</text>
<text x="489" y="629.6" class="ab">longer valid.</text>
<text x="482" y="637.9" class="ab">•</text><text x="489" y="637.9" class="ab">Click on a box to open the full document (links are maintained</text>
<text x="489" y="646.2" class="ab">by the website owner).</text>
<text x="482" y="654.5" class="ab">•</text><text x="489" y="654.5" class="ab">Boxes with red borders indicate recent updates.</text>
<text x="482" y="662.8" class="ab">•</text><text x="489" y="662.8" class="ab">In the Adobe PDF, iPhone or iPad Touch users may find that they</text>
<text x="489" y="671.1" class="ab">can zoom in a Chrome but that hyperlinks are less stable.</text>
<text x="489" y="679.4" class="ab">Users of Apple's Reader or Adobe Reader contain invisible</text>
<text x="489" y="687.7" class="ab">layers/links. For those who desire a version without the links,</text>
<text x="489" y="696" class="ab">there are apps in the iTunes store for less than $1.00.</text>
<text x="482" y="704.3" class="abr">•</text><text x="489" y="704.3" class="abr">For the latest version of this chart go to <tspan text-decoration="underline">http://iac.dtic.mil/csiac/</tspan></text>
<text x="489" y="712.6" class="abr"><tspan text-decoration="underline">ia_policychart.html</tspan>. You can sign up to be notified by email of</text>
<text x="489" y="720.9" class="abr">any updates to this document.</text>
</g>

<g id="legend">
<rect class="sec" x="703" y="585" width="227" height="105" rx="9"/>
<rect class="sub" x="705" y="587" width="223" height="11"/>
<line class="ul" x1="705" y1="598.5" x2="928" y2="598.5"/>
<text class="sh" x="816.5" y="595" font-size="6.5">Color Key</text>
<rect class="b s" x="713" y="601" width="11" height="11"/><text class="lt" x="729" y="605">USD(AT&amp;L)/DoD CIO &amp;<tspan x="729" dy="5.6">Dual Sign</tspan></text>
<rect class="b t" x="713" y="615" width="11" height="11"/><text class="lt" x="729" y="622">CNSS Issuances</text>
<rect class="b bl" x="713" y="629" width="11" height="11"/><text class="lt" x="729" y="636">DISA</text>
<rect class="b br" x="713" y="643" width="11" height="11"/><text class="lt" x="729" y="650">DNI</text>
<rect class="b lg" x="713" y="657" width="11" height="11"/><text class="lt" x="729" y="664">JCS</text>
<rect class="b pu" x="713" y="671" width="11" height="11"/><text class="lt" x="729" y="678">OSD</text>
<rect class="b tl" x="797" y="601" width="11" height="11"/><text class="lt" x="813" y="608">NIST</text>
<rect class="b ol" x="797" y="615" width="11" height="11"/><text class="lt" x="813" y="622">NSA</text>
<rect class="b p2" x="797" y="629" width="11" height="11"/><text class="lt" x="813" y="636">WH</text>
<rect class="b sl" x="797" y="643" width="11" height="11"/><text class="lt" x="813" y="650">USCYBERCOM</text>
<rect class="b dr" x="797" y="657" width="11" height="11"/><text class="lt" x="813" y="664">USD(AT&amp;L)</text>
<rect class="b dg" x="797" y="671" width="11" height="11"/><text class="lt" x="813" y="678">USD(I)</text>
<rect class="b" x="862" y="601" width="11" height="11" fill="#bab6c3"/><text class="lt" x="877" y="608">USD(P)</text>
<rect class="b" x="862" y="615" width="11" height="11" fill="#fcc46e" stroke-width="1.2"/><text class="lt" x="877" y="622">USD(P&amp;R)</text>
<rect class="b" x="862" y="629" width="11" height="11" fill="#fde4c4"/><text class="lt" x="877" y="636">DoD Components</text>
<rect class="b lb" x="862" y="643" width="11" height="11"/><text class="lt" x="877" y="650">Other Agencies</text>
<rect x="862" y="657" width="11" height="11" fill="#fff" stroke="#e3151c" stroke-width="1.5"/><text class="lt" x="877" y="660.5" font-size="5">Recently<tspan x="877" dy="5">Updated and</tspan><tspan x="877" dy="5">Signed</tspan></text>
<rect class="b" x="862" y="671" width="11" height="11" fill="#fbe7a6"/><text class="lt" x="877" y="681.5" font-size="5">Signature pending</text>
</g>

<text x="770" y="775" font-size="9.6" font-weight="bold" fill="#111">Distribution Statement A: Approved for Public Release. Distribution is unlimited.</text>
</svg>
